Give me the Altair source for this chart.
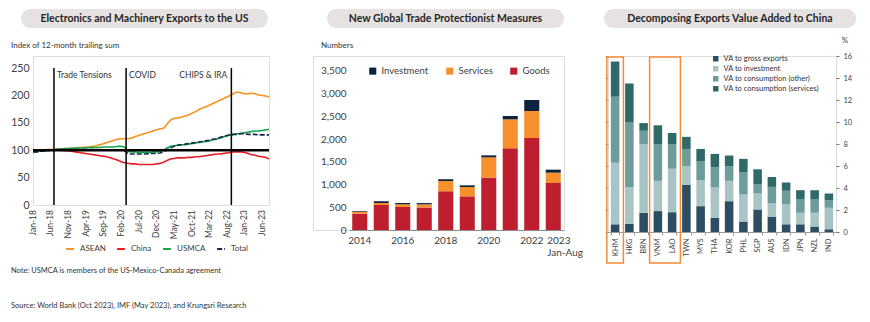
import altair as alt
import pandas as pd

FONT = "Lato"
PILL = "#e6e2e2"
TXT = "#262626"
LBL = "#404040"

# ---------------- Panel 1: Electronics and Machinery Exports to the US ----------------
series_names = ["ASEAN", "China", "USMCA", "Total"]
series_colors = ["#f7931e", "#ed1c24", "#12a64a", "#17284a"]
asean = [100, 100, 100, 100, 101, 101, 101, 102, 102, 103, 103, 104,
         104, 105, 105, 106, 106, 107, 108, 110, 112, 114, 116, 118,
         120, 121, 121, 121, 122, 125, 127, 129, 131, 133, 135, 137,
         139, 140, 147, 155, 158, 159, 160, 162, 164, 167, 170, 174,
         177, 179, 182, 185, 188, 191, 194, 197, 200, 204, 206, 205,
         203, 203, 204, 203, 201, 200, 199, 197]
china = [100, 100, 100, 100, 100, 100, 100, 100, 100, 99, 99, 98,
         97, 96, 95, 94, 93, 92, 91, 90, 89, 88, 86, 84,
         82, 79, 77, 76, 75, 75, 74, 74, 74, 74, 74, 75,
         76, 78, 81, 84, 85, 86, 86, 86, 87, 87, 88, 88,
         89, 90, 91, 92, 93, 93, 94, 95, 96, 97, 97, 97,
         96, 94, 92, 91, 89, 88, 87, 84]
usmca = [97, 97, 98, 98, 99, 100, 101, 102, 102, 103, 103, 103,
         104, 104, 104, 104, 105, 105, 105, 105, 106, 106, 106, 106,
         107, 107, 106, 98, 97, 97, 96, 96, 96, 96, 97, 97,
         98, 100, 104, 107, 108, 109, 110, 110, 111, 112, 113, 114,
         115, 116, 117, 119, 120, 122, 124, 126, 128, 129, 130, 131,
         132, 133, 134, 135, 135, 136, 137, 138]
total = [97, 97, 98, 98, 99, 100, 100, 101, 101, 101, 101, 101,
         101, 101, 101, 101, 101, 101, 101, 100, 100, 100, 100, 100,
         100, 100, 99, 94, 93, 93, 93, 93, 93, 94, 94, 94,
         95, 97, 100, 104, 107, 109, 110, 111, 112, 113, 114, 115,
         116, 117, 118, 120, 121, 123, 125, 127, 128, 129, 129, 130,
         130, 129, 129, 129, 128, 128, 128, 128]
event_dates = ["2018-07-01T00:00:00", "2020-03-15T00:00:00", "2022-09-10T00:00:00"]
event_labels = ["Trade Tensions", "COVID", "CHIPS & IRA"]
event_side = ["right", "right", "left"]
y1_ticks = [0, 50, 100, 150, 200, 250]

months = pd.date_range("2018-01-01", periods=len(asean), freq="MS")
month_str = months.strftime("%Y-%m-%dT00:00:00")
tick_months = pd.date_range("2018-01-01", "2023-06-01", freq="5MS")
tick_df = pd.DataFrame({"date": tick_months.strftime("%Y-%m-%dT00:00:00"),
                        "label": tick_months.strftime("%b-%y")})

p1_df = pd.concat([
    pd.DataFrame({"date": month_str, "value": vals, "series": name})
    for name, vals in zip(series_names, [asean, china, usmca, total])
])
ev_df = pd.DataFrame({"date": event_dates, "label": event_labels, "side": event_side})
one = pd.DataFrame({"a": [0]})

x1_scale = alt.Scale(domain=[alt.DateTime(year=2018, month=1, date=1),
                             alt.DateTime(year=2023, month=8, date=1)], nice=False)
x1_axis = alt.Axis(labels=False, ticks=False, domain=False, grid=False)
y1_scale = alt.Scale(domain=[0, 272], nice=False)
y1_axis = alt.Axis(values=y1_ticks, labelFontSize=10.5, labelColor=LBL, labelFont=FONT,
                   ticks=False, domain=False, grid=False, labelPadding=4, labelOverlap=False,
                   labelFlush=False)
X1 = alt.X("date:T", scale=x1_scale, axis=x1_axis, title=None)
Y1 = alt.Y("value:Q", scale=y1_scale, axis=y1_axis, title=None)


def y1_datum(v):
    return alt.YDatum(v, scale=y1_scale, axis=y1_axis, title=None, type="quantitative")


leg1 = alt.Legend(orient="none", legendX=32, legendY=188, direction="horizontal", title=None,
                  labelFontSize=8, labelFont=FONT, labelColor=LBL, symbolType="stroke",
                  symbolSize=60, symbolStrokeWidth=2, columnPadding=7, padding=0, labelOffset=5)

p1_lines = alt.Chart(p1_df).mark_line(strokeWidth=1.6).encode(
    x=X1,
    y=Y1,
    color=alt.Color("series:N", scale=alt.Scale(domain=series_names, range=series_colors), legend=leg1),
    strokeDash=alt.StrokeDash("series:N", scale=alt.Scale(domain=series_names,
                                                          range=[[1, 0], [1, 0], [1, 0], [5, 2]]), legend=leg1),
)
p1_xlabels = alt.Chart(tick_df).mark_text(angle=270, align="right", baseline="middle", dx=-5,
                                          fontSize=8.5, font=FONT, color=LBL).encode(
    x=X1, y=alt.value(149), text="label:N")
p1_base = alt.Chart(one).mark_rule(color="black", strokeWidth=2.5).encode(y=y1_datum(100))
p1_events = alt.Chart(ev_df).mark_rule(color="black", strokeWidth=1.5).encode(
    x=X1, y=y1_datum(0), y2=alt.datum(250))
p1_ev_right = alt.Chart(ev_df).transform_filter("datum.side == 'right'").mark_text(
    align="left", dx=3, baseline="middle", fontSize=8.5, font=FONT, color="#333").encode(
    x=X1, y=y1_datum(238), text="label:N")
p1_ev_left = alt.Chart(ev_df).transform_filter("datum.side == 'left'").mark_text(
    align="right", dx=-4, baseline="middle", fontSize=8.5, font=FONT, color="#333").encode(
    x=X1, y=y1_datum(238), text="label:N")

p1_pill = alt.Chart(one).mark_rect(cornerRadius=10, color=PILL).encode(
    x=alt.value(-12), x2=alt.value(235), y=alt.value(-47), y2=alt.value(-28))
p1_title = alt.Chart(one).mark_text(text="Electronics and Machinery Exports to the US", fontWeight="bold",
                                    fontSize=10.5, font=FONT, color=TXT, baseline="middle").encode(
    x=alt.value(111.5), y=alt.value(-37.5))
p1_sub = alt.Chart(one).mark_text(text="Index of 12-month trailing sum", fontSize=8, font=FONT,
                                  color="#333", align="left", baseline="middle").encode(
    x=alt.value(-22), y=alt.value(-10))
p1_note = alt.Chart(one).mark_text(text="Note: USMCA is members of the US-Mexico-Canada agreement",
                                   fontSize=7.5, font=FONT, color="#333", align="left",
                                   baseline="middle").encode(x=alt.value(-22), y=alt.value(215))
p1_src = alt.Chart(one).mark_text(text="Source: World Bank (Oct 2023), IMF (May 2023), and Krungsri Research",
                                  fontSize=7.5, font=FONT, color="#333", align="left",
                                  baseline="middle").encode(x=alt.value(-22), y=alt.value(250))

panel1 = alt.layer(p1_pill, p1_title, p1_sub, p1_note, p1_src, p1_lines, p1_events, p1_base,
                   p1_ev_right, p1_ev_left, p1_xlabels).properties(width=236, height=149)

# ---------------- Panel 2: New Global Trade Protectionist Measures ----------------
years = ["2014", "2015", "2016", "2017", "2018", "2019", "2020", "2021", "2022", "2023"]
goods = [360, 550, 506, 495, 851, 741, 1152, 1798, 2025, 1035]
services = [43, 44, 60, 70, 227, 205, 447, 638, 594, 227]
investment = [15, 37, 28, 28, 37, 37, 44, 73, 242, 66]
cat2 = ["Investment", "Services", "Goods"]
cat2_colors = ["#0c2340", "#f5902c", "#be1e2d"]
y2_ticks = [0, 500, 1000, 1500, 2000, 2500, 3000, 3500]

p2_df = pd.concat([
    pd.DataFrame({"year": years, "value": vals, "category": name, "ord": k})
    for k, (name, vals) in enumerate([("Goods", goods), ("Services", services), ("Investment", investment)])
])

label2 = ("datum.value == '2023' ? ['2023', 'Jan-Aug'] : "
          "(indexof(['2014','2016','2018','2020','2022'], datum.value) >= 0 ? datum.value : '')")
p2_bars = alt.Chart(p2_df).mark_bar().encode(
    x=alt.X("year:N", sort=None,
            scale=alt.Scale(domain=years, range=[36, 251], paddingInner=0.3, paddingOuter=0.15),
            axis=alt.Axis(labelExpr=label2, labelAngle=0, labelFontSize=10, labelFont=FONT,
                          labelColor=LBL, ticks=False, domainColor="#8c8c8c", domainWidth=1.2,
                          labelPadding=5, labelOverlap=False, grid=False,
                          labelAlign={"condition": {"test": "datum.value == '2023'", "value": "left"},
                                      "value": "center"},
                          labelOffset={"condition": {"test": "datum.value == '2023'", "value": -6},
                                       "value": 0}),
            title=None),
    y=alt.Y("value:Q", stack="zero", scale=alt.Scale(domain=[0, 3830], nice=False),
            axis=alt.Axis(values=y2_ticks, format=",.0f", labelFontSize=10, labelFont=FONT,
                          labelColor=LBL, ticks=False, domain=False, grid=False,
                          labelPadding=3, offset=-36, labelOverlap=False),
            title=None),
    color=alt.Color("category:N", scale=alt.Scale(domain=cat2, range=cat2_colors),
                    legend=alt.Legend(orient="none", legendX=55, legendY=10, direction="horizontal",
                                      title=None, symbolType="square", symbolSize=50,
                                      labelFontSize=9.5, labelFont=FONT, labelColor=LBL,
                                      columnPadding=16, padding=0)),
    order=alt.Order("ord:Q"),
)
p2_pill = alt.Chart(one).mark_rect(cornerRadius=10, color=PILL).encode(
    x=alt.value(14), x2=alt.value(251), y=alt.value(-47), y2=alt.value(-28))
p2_title = alt.Chart(one).mark_text(text="New Global Trade Protectionist Measures", fontWeight="bold",
                                    fontSize=10.5, font=FONT, color=TXT, baseline="middle").encode(
    x=alt.value(132.5), y=alt.value(-37.5))
p2_sub = alt.Chart(one).mark_text(text="Numbers", fontSize=8, font=FONT, color="#333",
                                  align="left", baseline="middle").encode(
    x=alt.value(8), y=alt.value(-10))
panel2 = alt.layer(p2_pill, p2_title, p2_sub, p2_bars).properties(width=251, height=174)

# ---------------- Panel 3: Decomposing Exports Value Added to China ----------------
countries = ["KHM", "HKG", "BRN", "VNM", "LAO", "TWN", "MYS", "THA", "KOR", "PHL",
             "SGP", "AUS", "IDN", "JPN", "NZL", "IND"]
va_gross = [0.7, 0.75, 1.75, 1.9, 1.8, 4.3, 2.35, 1.3, 2.8, 0.95, 2.05, 1.4, 0.7, 0.7, 0.5, 0.25]
va_invest = [5.6, 3.35, 6.25, 2.75, 3.95, 1.7, 2.35, 2.75, 1.85, 2.45, 1.45, 1.2, 1.8, 1.05, 1.25, 1.95]
va_cons_other = [6.0, 5.9, 1.2, 3.35, 2.2, 1.55, 1.7, 1.85, 1.35, 2.05, 0.85, 1.5, 1.25, 1.25, 1.25, 0.7]
va_cons_serv = [3.2, 3.5, 0.7, 1.7, 1.05, 1.1, 1.15, 1.2, 0.95, 1.2, 1.35, 0.9, 0.75, 0.8, 0.8, 0.6]
cat3 = ["VA to gross exports", "VA to investment", "VA to consumption (other)",
        "VA to consumption (services)"]
cat3_colors = ["#2c4d62", "#a9c4c5", "#6e9c9b", "#2f6a68"]
highlight_start = ["KHM", "VNM"]
highlight_end = ["KHM", "LAO"]
y3_ticks = [0, 2, 4, 6, 8, 10, 12, 14, 16]

p3_df = pd.concat([
    pd.DataFrame({"country": countries, "value": vals, "category": name, "ord": k})
    for k, (name, vals) in enumerate(zip(cat3, [va_gross, va_invest, va_cons_other, va_cons_serv]))
])
box_df = pd.DataFrame({"start": highlight_start, "end": highlight_end})

x3_scale = alt.Scale(domain=countries, paddingInner=0.4, paddingOuter=0.2)
x3_axis = alt.Axis(labelAngle=-90, tickBand="extent", tickSize=3, tickColor="#9a9a9a",
                   domainColor="#9a9a9a", labelFontSize=7.5, labelFont=FONT, labelColor="#444",
                   labelPadding=3, grid=False, labelOverlap=False)
y3_scale = alt.Scale(domain=[0, 16], nice=False)

p3_bars = alt.Chart(p3_df).mark_bar().encode(
    x=alt.X("country:N", sort=None, scale=x3_scale, axis=x3_axis, title=None),
    y=alt.Y("value:Q", stack="zero", scale=y3_scale,
            axis=alt.Axis(orient="right", values=y3_ticks, tickSize=3, tickColor="#777",
                          domain=False, grid=False, labelFontSize=7.5, labelFont=FONT,
                          labelColor="#444", labelPadding=4, labelOverlap=False),
            title=None),
    color=alt.Color("category:N", scale=alt.Scale(domain=cat3, range=cat3_colors),
                    legend=alt.Legend(orient="none", legendX=104, legendY=-1, direction="vertical",
                                      title=None, symbolType="square", symbolSize=30,
                                      labelFontSize=7.5, labelFont=FONT, labelColor="#333",
                                      rowPadding=1, padding=0)),
    order=alt.Order("ord:Q"),
)
p3_left = alt.Chart(p3_df).mark_tick(opacity=0).encode(
    y=alt.Y("value:Q", scale=y3_scale,
            axis=alt.Axis(orient="left", values=y3_ticks, labels=False, tickSize=3,
                          tickColor="#999", domain=False, grid=False),
            title=None))
p3_box = alt.Chart(box_df).mark_rect(filled=False, color="#f58a35", strokeWidth=1.5,
                                     xOffset=-4, x2Offset=4).encode(
    x=alt.X("start:N", sort=None, scale=x3_scale, axis=x3_axis, bandPosition=0, title=None),
    x2=alt.X2("end", bandPosition=1),
    y=alt.value(1), y2=alt.value(207))
p3_pill = alt.Chart(one).mark_rect(cornerRadius=10, color=PILL).encode(
    x=alt.value(-4), x2=alt.value(248), y=alt.value(-47), y2=alt.value(-28))
p3_title = alt.Chart(one).mark_text(text="Decomposing Exports Value Added to China", fontWeight="bold",
                                    fontSize=10.5, font=FONT, color=TXT, baseline="middle").encode(
    x=alt.value(122), y=alt.value(-37.5))
p3_pct = alt.Chart(one).mark_text(text="%", fontSize=8, font=FONT, color="#444",
                                  baseline="middle").encode(x=alt.value(237), y=alt.value(-15))
panel3 = alt.layer(p3_pill, p3_title, p3_pct, p3_left, p3_bars, p3_box).resolve_axis(
    y="independent").properties(width=228, height=176)

chart = alt.HConcatChart(hconcat=[panel1, panel2, panel3], spacing=44, bounds="flush").resolve_scale(
    color="independent", strokeDash="independent"
).resolve_legend(
    color="independent", strokeDash="independent"
).properties(
    padding={"left": 10, "top": 8, "right": 0, "bottom": 0}
).configure_view(stroke=None).configure(font=FONT, background="white").configure_axis(
    labelOverlap=False, labelBound=False
)

chart.save("out.html", embed_options={"renderer": "svg", "actions": False})
